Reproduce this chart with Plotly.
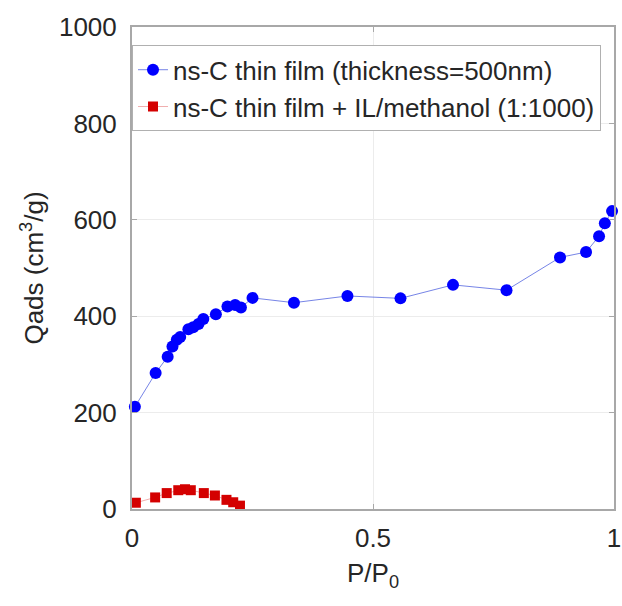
import plotly.graph_objects as go

# Blue series: ns-C thin film (thickness=500nm)
blue_x = [0.006, 0.049, 0.074, 0.084, 0.093, 0.100, 0.117, 0.127, 0.138, 0.148,
          0.174, 0.198, 0.214, 0.226, 0.250, 0.336, 0.447, 0.557, 0.666, 0.777,
          0.888, 0.942, 0.969, 0.981, 0.996]
blue_y = [212, 282, 316, 337, 351, 357, 373, 377, 384, 394,
          404, 420, 423, 418, 438, 428, 442, 437, 465, 454,
          522, 533, 566, 593, 618]

# Red series: ns-C thin film + IL/methanol (1:1000)
red_x = [0.008, 0.048, 0.072, 0.096, 0.110, 0.122, 0.149, 0.172, 0.196, 0.210, 0.224]
red_y = [13, 24, 33, 39, 41, 39, 33, 28, 19, 14, 7]

blue_name = "ns-C thin film (thickness=500nm)"
red_name = "ns-C thin film + IL/methanol (1:1000)"

x_ticks = [0, 0.5, 1]
x_ticklabels = ["0", "0.5", "1"]
y_ticks = [0, 200, 400, 600, 800, 1000]

FONT = "Liberation Sans, Arial, sans-serif"
TXT = "#262626"

fig = go.Figure()
fig.add_trace(go.Scatter(
    x=blue_x, y=blue_y, mode="lines+markers", name=blue_name,
    line=dict(color="rgba(60,80,220,0.7)", width=1),
    marker=dict(symbol="circle", size=12, color="#0000ff"),
    cliponaxis=False,
))
fig.add_trace(go.Scatter(
    x=red_x, y=red_y, mode="lines+markers", name=red_name,
    line=dict(color="rgba(230,120,120,0.6)", width=1),
    marker=dict(symbol="square", size=10, color="#d40000"),
    cliponaxis=False,
))

axis_common = dict(
    showline=True, linecolor="#a8a8a8", linewidth=2, mirror="ticks",
    ticks="inside", ticklen=5, tickcolor="#a8a8a8",
    showgrid=True, gridcolor="#ececec", gridwidth=1,
    zeroline=False, automargin=False,
    tickfont=dict(family=FONT, size=26, color=TXT),
)

fig.update_xaxes(
    range=[0, 1], tickvals=x_ticks, ticktext=x_ticklabels,
    title=dict(text="P/P<sub>0</sub>", font=dict(family=FONT, size=26, color=TXT), standoff=12),
    ticklabelstandoff=5,
    **axis_common,
)
fig.update_yaxes(
    range=[0, 1000], tickvals=y_ticks,
    title=dict(text="Qads (cm<sup>3</sup>/g)", font=dict(family=FONT, size=26, color=TXT), standoff=8),
    ticklabelstandoff=8,
    **axis_common,
)

fig.update_layout(
    width=622, height=606,
    margin=dict(l=132, r=8, t=27, b=97),
    paper_bgcolor="white", plot_bgcolor="white",
    showlegend=True,
    legend=dict(
        x=0.0, y=0.962, xanchor="left", yanchor="top",
        bgcolor="white", bordercolor="#b0b0b0", borderwidth=1,
        font=dict(family=FONT, size=26, color=TXT),
        tracegroupgap=0, itemwidth=30,
    ),
)

# remove the default page margin so the figure sits at the window's corner
fig.write_html(
    "out.html",
    config={"displayModeBar": False},
    post_script="document.body.style.margin='0';document.body.style.overflow='hidden';",
)
